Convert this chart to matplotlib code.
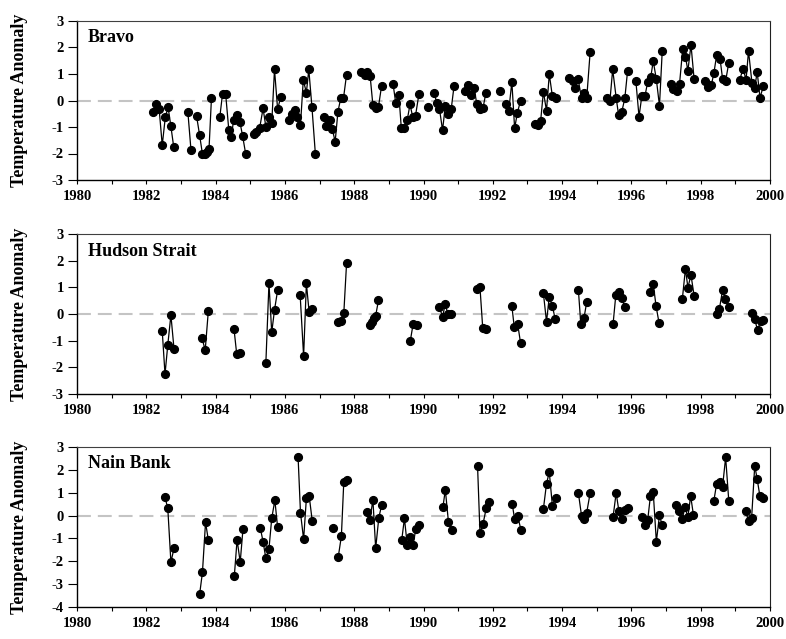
import numpy as np
import matplotlib
matplotlib.use("Agg")
import matplotlib.pyplot as plt
from matplotlib.ticker import MultipleLocator

plt.rcParams['font.family'] = ['Liberation Serif', 'DejaVu Serif']
plt.rcParams['font.weight'] = 'bold'
plt.rcParams['axes.unicode_minus'] = False
plt.rcParams['lines.scale_dashes'] = False

N = None
# ---- Bravo ----
bravo_year = [1982.19, 1982.29, 1982.37, 1982.46, 1982.55, 1982.63, 1982.71, 1982.79, N,
              1983.20, 1983.29, N,
              1983.45, 1983.54, 1983.62, 1983.69, 1983.75, 1983.81, 1983.88, N,
              1984.12, 1984.20, 1984.29, 1984.38, 1984.45, 1984.52, 1984.63, 1984.70, 1984.78, 1984.87, N,
              1985.11, 1985.18, 1985.27, 1985.37, 1985.45, 1985.53, 1985.62, 1985.70, 1985.79, 1985.88, N,
              1986.12, 1986.20, 1986.28, 1986.36, 1986.45, 1986.53, 1986.62, 1986.69, 1986.78, 1986.88, N,
              1987.12, 1987.19, 1987.29, 1987.37, 1987.45, 1987.53, 1987.61, 1987.69, 1987.78, N,
              1988.21, 1988.30, 1988.37, 1988.46, 1988.54, 1988.62, 1988.70, 1988.79, N,
              1989.12, 1989.20, 1989.29, 1989.36, 1989.44, 1989.53, 1989.61, 1989.69, 1989.77, 1989.87, N,
              1990.13, N,
              1990.31, 1990.38, 1990.46, 1990.55, 1990.63, 1990.72, 1990.80, 1990.88, N,
              1991.20, 1991.29, 1991.38, 1991.46, 1991.54, 1991.63, 1991.72, 1991.80, N,
              1992.21, N,
              1992.37, 1992.46, 1992.55, 1992.63, 1992.71, 1992.80, N,
              1993.22, 1993.31, 1993.38, 1993.46, 1993.55, 1993.63, 1993.72, 1993.81, N,
              1994.21, 1994.31, 1994.38, 1994.46, 1994.56, 1994.63, 1994.71, 1994.81, N,
              1995.29, 1995.38, 1995.46, 1995.56, 1995.63, 1995.72, 1995.81, 1995.89, N,
              1996.13, 1996.22, 1996.30, 1996.39, 1996.47, 1996.56, 1996.63, 1996.72, 1996.81, 1996.89, N,
              1997.13, 1997.21, 1997.31, 1997.39, 1997.48, 1997.56, 1997.63, 1997.72, 1997.81, N,
              1998.13, 1998.21, 1998.31, 1998.38, 1998.46, 1998.56, 1998.63, 1998.72, 1998.81, N,
              1999.13, 1999.22, 1999.31, 1999.38, 1999.48, 1999.56, 1999.63, 1999.71, 1999.81]
bravo_anom = [-0.44, -0.15, -0.31, -1.69, -0.61, -0.26, -0.98, -1.74, N,
              -0.44, -1.88, N,
              -0.58, -1.32, -2.02, -2.00, -1.93, -1.83, 0.08, N,
              -0.64, 0.25, 0.25, -1.10, -1.39, -0.74, -0.54, -0.80, -1.34, -2.03, N,
              -1.27, -1.17, -1.05, -0.30, -0.99, -0.64, -0.86, 1.17, -0.33, 0.13, N,
              -0.74, -0.51, -0.36, -0.61, -0.92, 0.77, 0.30, 1.17, -0.24, -2.03, N,
              -0.61, -0.95, -0.72, -1.08, -1.56, -0.43, 0.08, 0.08, 0.98, N,
              1.08, 0.97, 1.08, 0.92, -0.18, -0.30, -0.24, 0.55, N,
              0.64, -0.11, 0.20, -1.05, -1.02, -0.74, -0.15, -0.62, -0.57, 0.26, N,
              -0.26, N,
              0.30, -0.09, -0.31, -1.12, -0.19, -0.50, -0.32, 0.53, N,
              0.35, 0.57, 0.20, 0.48, -0.15, -0.31, -0.27, 0.29, N,
              0.36, N,
              -0.15, -0.39, 0.70, -1.05, -0.46, -0.01, N,
              -0.90, -0.93, -0.78, 0.33, -0.39, 0.99, 0.16, 0.09, N,
              0.85, 0.74, 0.48, 0.83, 0.08, 0.29, 0.08, 1.84, N,
              0.08, -0.01, 1.17, 0.11, -0.55, -0.44, 0.08, 1.12, N,
              0.72, -0.61, 0.16, 0.16, 0.70, 0.89, 1.49, 0.80, -0.20, 1.87, N,
              0.64, 0.43, 0.36, 0.64, 1.93, 1.66, 1.12, 2.10, 0.80, N,
              0.72, 0.51, 0.60, 1.03, 1.71, 1.56, 0.83, 0.74, 1.42, N,
              0.79, 1.20, 0.79, 1.87, 0.66, 0.49, 1.08, 0.11, 0.54]

# ---- Hudson Strait ----
hudson_year = [1982.46, 1982.54, 1982.62, 1982.71, 1982.80, N,
               1983.61, 1983.70, 1983.79, N,
               1984.53, 1984.61, 1984.71, N,
               1985.45, 1985.54, 1985.62, 1985.70, 1985.79, N,
               1986.44, 1986.54, 1986.62, 1986.70, 1986.79, N,
               1987.52, 1987.62, 1987.70, 1987.78, N,
               1988.45, 1988.52, 1988.58, 1988.62, 1988.70, N,
               1989.62, 1989.70, 1989.82, N,
               1990.46, 1990.55, 1990.63, 1990.70, 1990.78, N,
               1991.54, 1991.63, 1991.71, 1991.81, N,
               1992.55, 1992.62, 1992.72, 1992.80, N,
               1993.46, 1993.55, 1993.63, 1993.72, 1993.80, N,
               1994.47, 1994.54, 1994.63, 1994.71, N,
               1995.47, 1995.55, 1995.63, 1995.72, 1995.81, N,
               1996.54, 1996.63, 1996.71, 1996.80, N,
               1997.47, 1997.56, 1997.63, 1997.72, 1997.81, N,
               1998.46, 1998.54, 1998.63, 1998.71, 1998.81, N,
               1999.47, 1999.56, 1999.64, 1999.73, 1999.81]
hudson_anom = [-0.64, -2.26, -1.16, -0.04, -1.31, N,
               -0.91, -1.36, 0.11, N,
               -0.55, -1.51, -1.48, N,
               -1.85, 1.15, -0.69, 0.15, 0.89, N,
               0.71, -1.58, 1.15, 0.06, 0.19, N,
               -0.29, -0.25, 0.03, 1.91, N,
               -0.41, -0.29, -0.16, -0.06, 0.51, N,
               -1.00, -0.38, -0.41, N,
               0.25, -0.10, 0.38, 0.00, 0.00, N,
               0.94, 1.00, -0.54, -0.57, N,
               0.30, -0.50, -0.39, -1.08, N,
               0.78, -0.29, 0.65, 0.31, -0.20, N,
               0.90, -0.38, -0.16, 0.44, N,
               -0.39, 0.71, 0.81, 0.61, 0.25, N,
               0.84, 1.14, 0.31, -0.35, N,
               0.56, 1.70, 0.99, 1.46, 0.68, N,
               0.01, 0.19, 0.89, 0.56, 0.25, N,
               0.04, -0.19, -0.61, -0.26, -0.24]

# ---- Nain Bank ----
nain_year = [1982.54, 1982.62, 1982.71, 1982.80, N,
             1983.54, 1983.62, 1983.71, 1983.79, N,
             1984.54, 1984.62, 1984.71, 1984.79, N,
             1985.29, 1985.37, 1985.45, 1985.54, 1985.62, 1985.71, 1985.79, N,
             1986.38, 1986.45, 1986.54, 1986.62, 1986.70, 1986.79, N,
             1987.38, N,
             1987.54, 1987.63, 1987.70, 1987.79, N,
             1988.37, 1988.45, 1988.54, 1988.62, 1988.71, 1988.79, N,
             1989.37, 1989.45, 1989.53, 1989.62, 1989.70, 1989.78, 1989.87, N,
             1990.56, 1990.63, 1990.72, 1990.81, N,
             1991.56, 1991.63, 1991.72, 1991.81, 1991.88, N,
             1992.56, 1992.63, 1992.72, 1992.81, N,
             1993.46, 1993.55, 1993.63, 1993.72, 1993.81, N,
             1994.47, 1994.56, 1994.63, 1994.71, 1994.81, N,
             1995.47, 1995.56, 1995.64, 1995.72, 1995.81, 1995.89, N,
             1996.30, 1996.38, 1996.47, 1996.55, 1996.63, 1996.72, 1996.81, 1996.89, N,
             1997.30, 1997.38, 1997.46, 1997.55, 1997.63, 1997.71, 1997.79, N,
             1998.38, 1998.46, 1998.55, 1998.63, 1998.72, 1998.81, N,
             1999.30, 1999.38, 1999.47, 1999.56, 1999.63, 1999.71, 1999.81]
nain_anom = [0.80, 0.32, -2.04, -1.43, N,
             -3.43, -2.49, -0.29, -1.07, N,
             -2.65, -1.06, -2.04, -0.59, N,
             -0.54, -1.14, -1.87, -1.46, -0.12, 0.67, -0.51, N,
             2.58, 0.12, -1.04, 0.75, 0.87, -0.25, N,
             -0.54, N,
             -1.81, -0.90, 1.49, 1.55, N,
             0.14, -0.20, 0.68, -1.43, -0.10, 0.45, N,
             -1.09, -0.12, -1.28, -0.93, -1.28, -0.57, -0.41, N,
             0.36, 1.13, -0.28, -0.61, N,
             2.17, -0.75, -0.35, 0.32, 0.61, N,
             0.52, -0.17, -0.03, -0.61, N,
             0.29, 1.39, 1.91, 0.42, 0.75, N,
             0.99, 0.00, -0.14, 0.13, 0.99, N,
             -0.07, 0.99, 0.19, -0.14, 0.26, 0.35, N,
             -0.07, -0.41, -0.20, 0.87, 1.03, -1.14, 0.01, -0.43, N,
             0.48, 0.19, -0.17, 0.36, -0.07, 0.86, 0.03, N,
             0.65, 1.39, 1.48, 1.25, 2.55, 0.65, N,
             0.20, -0.25, -0.09, 2.19, 1.59, 0.84, 0.75]

station_names = ["Bravo", "Hudson Strait", "Nain Bank"]
station_years = [bravo_year, hudson_year, nain_year]
station_anoms = [bravo_anom, hudson_anom, nain_anom]
y_limits = [(-3, 3), (-3, 3), (-4, 3)]
x_ticks_major = list(range(1980, 2001, 2))
y_label = "Temperature Anomaly"

W, H = 786, 639
fig = plt.figure(figsize=(W / 100, H / 100), dpi=100)

# axes boxes in pixels: (left, top, right, bottom)
boxes = [(77, 21, 770, 180), (77, 234, 770, 394), (77, 447, 770, 607)]

for (l, t, r, b), name, xs, ys, (ylo, yhi) in zip(boxes, station_names, station_years,
                                                  station_anoms, y_limits):
    ax = fig.add_axes([l / W, 1 - b / H, (r - l) / W, (b - t) / H])
    x = np.array([np.nan if v is None else v for v in xs], dtype=float)
    y = np.array([np.nan if v is None else v for v in ys], dtype=float)
    ax.axhline(0, color='#c4c4c4', lw=1.5, dashes=(10, 5), zorder=1)
    ax.plot(x, y, color='black', lw=0.9, marker='o', markersize=5.6,
            markerfacecolor='black', markeredgecolor='black', zorder=3)
    ax.set_xlim(1980, 2000)
    ax.set_ylim(ylo, yhi)
    ax.set_xticks(x_ticks_major)
    ax.xaxis.set_minor_locator(MultipleLocator(1))
    ax.set_yticks(range(ylo, yhi + 1))
    ax.tick_params(axis='x', which='both', direction='out', length=3, width=0.8,
                   labelsize=10.5, pad=4)
    ax.tick_params(axis='y', which='major', direction='out', length=6.5, width=0.8,
                   labelsize=10.5, pad=3)
    for lab in ax.get_xticklabels() + ax.get_yticklabels():
        lab.set_fontweight('bold')
    ax.spines['left'].set_linewidth(1.0)
    ax.spines['bottom'].set_linewidth(1.0)
    ax.spines['top'].set_linewidth(0.8)
    ax.spines['right'].set_linewidth(0.8)
    ax.spines['top'].set_color('#404040')
    ax.spines['right'].set_color('#202020')
    ax.text(11 / (r - l), 1 - 17 / (b - t), name, transform=ax.transAxes,
            fontsize=13, fontweight='bold', ha='left', va='center')
    fig.text(20 / W, 1 - ((t + b) / 2) / H, y_label, rotation=90, fontsize=13,
             fontweight='bold', ha='center', va='center')

fig.savefig("out.png", dpi=100)
